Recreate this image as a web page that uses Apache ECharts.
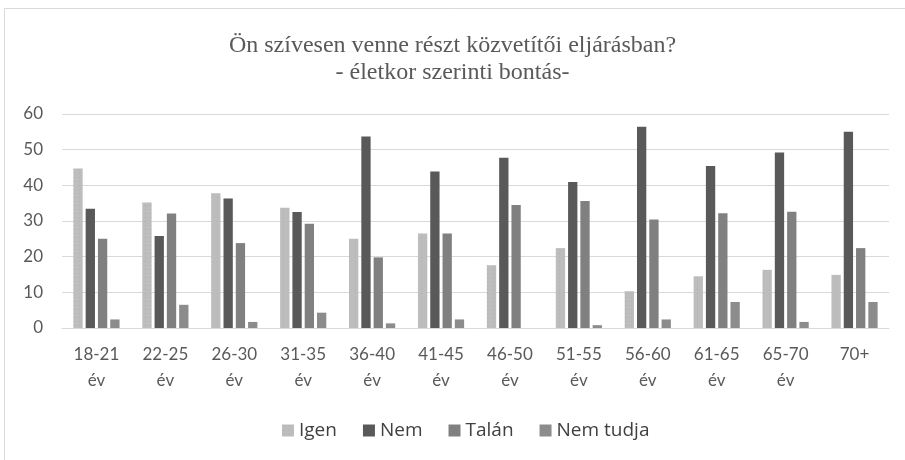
<!DOCTYPE html>
<html><head><meta charset="utf-8">
<script src="https://cdn.jsdelivr.net/npm/echarts@6/dist/echarts.min.js"></script>
<style>html,body{margin:0;padding:0;background:#fff}#c{width:905px;height:460px}</style>
</head><body><div id="c"></div>
<script>
const categories = ['18-21\név','22-25\név','26-30\név','31-35\név','36-40\név','41-45\név','46-50\név','51-55\név','56-60\név','61-65\név','65-70\név','70+'];
const seriesNames = ['Igen','Nem','Talán','Nem tudja'];
const igen = [44.7,35.2,37.8,33.7,25.0,26.5,17.6,22.4,10.3,14.5,16.3,14.9];
const nem = [33.4,25.8,36.3,32.5,53.7,43.9,47.7,40.9,56.4,45.4,49.2,55.0];
const talan = [25.0,32.1,23.8,29.2,19.8,26.5,34.5,35.6,30.4,32.2,32.6,22.4];
const nemTudja = [2.4,6.5,1.7,4.3,1.3,2.4,0,0.8,2.4,7.3,1.7,7.3];
const yTicks = [0,10,20,30,40,50,60];
const titleLines = ['Ön szívesen venne részt közvetítői eljárásban?','- életkor szerinti bontás-'];

const colors = ['#bdbdbd','#595959','#808080','#8c8c8c'];
const dataSets = [igen, nem, talan, nemTudja];
const chart = echarts.init(document.getElementById('c'));
chart.setOption({
  animation:false,
  backgroundColor:'#fff',
  color: colors,
  graphic:[{type:'rect',shape:{x:4.5,y:8.5,width:1000,height:1000},style:{fill:'none',stroke:'#d9d9d9',lineWidth:1},silent:true}],
  title:{text:titleLines.join('\n'),left:'center',top:27,itemGap:0,
    textStyle:{fontFamily:'Liberation Serif',fontSize:24,fontWeight:'normal',color:'#595959',lineHeight:27}},
  legend:{data:seriesNames,bottom:15,left:277,itemWidth:12,itemHeight:12,itemGap:26,icon:'rect',
    textStyle:{fontFamily:'Open Sans',fontSize:19,color:'#404040'}},
  grid:{left:62,right:16,top:114,bottom:132},
  xAxis:{type:'category',data:categories,
    axisLine:{lineStyle:{color:'#d9d9d9'}},axisTick:{show:false},
    axisLabel:{fontFamily:'Lato',fontSize:17,color:'#595959',lineHeight:26,margin:14,interval:0}},
  yAxis:{type:'value',min:yTicks[0],max:yTicks[yTicks.length-1],interval:10,
    axisLine:{show:false},axisTick:{show:false},
    splitLine:{lineStyle:{color:'#d9d9d9'}},
    axisLabel:{fontFamily:'Lato',fontSize:17,color:'#595959',margin:19}},
  series: seriesNames.map((n,i)=>({
    name:n,type:'bar',data:dataSets[i],
    barGap:'32%',barCategoryGap:'33%',
    itemStyle: i===0 ? {color:colors[0],decal:{symbol:'circle',symbolSize:0.4,color:'rgba(150,150,150,0.35)',dashArrayX:[[3,3]],dashArrayY:[3,1],rotation:0}} : {color:colors[i]}
  }))
});
</script></body></html>
